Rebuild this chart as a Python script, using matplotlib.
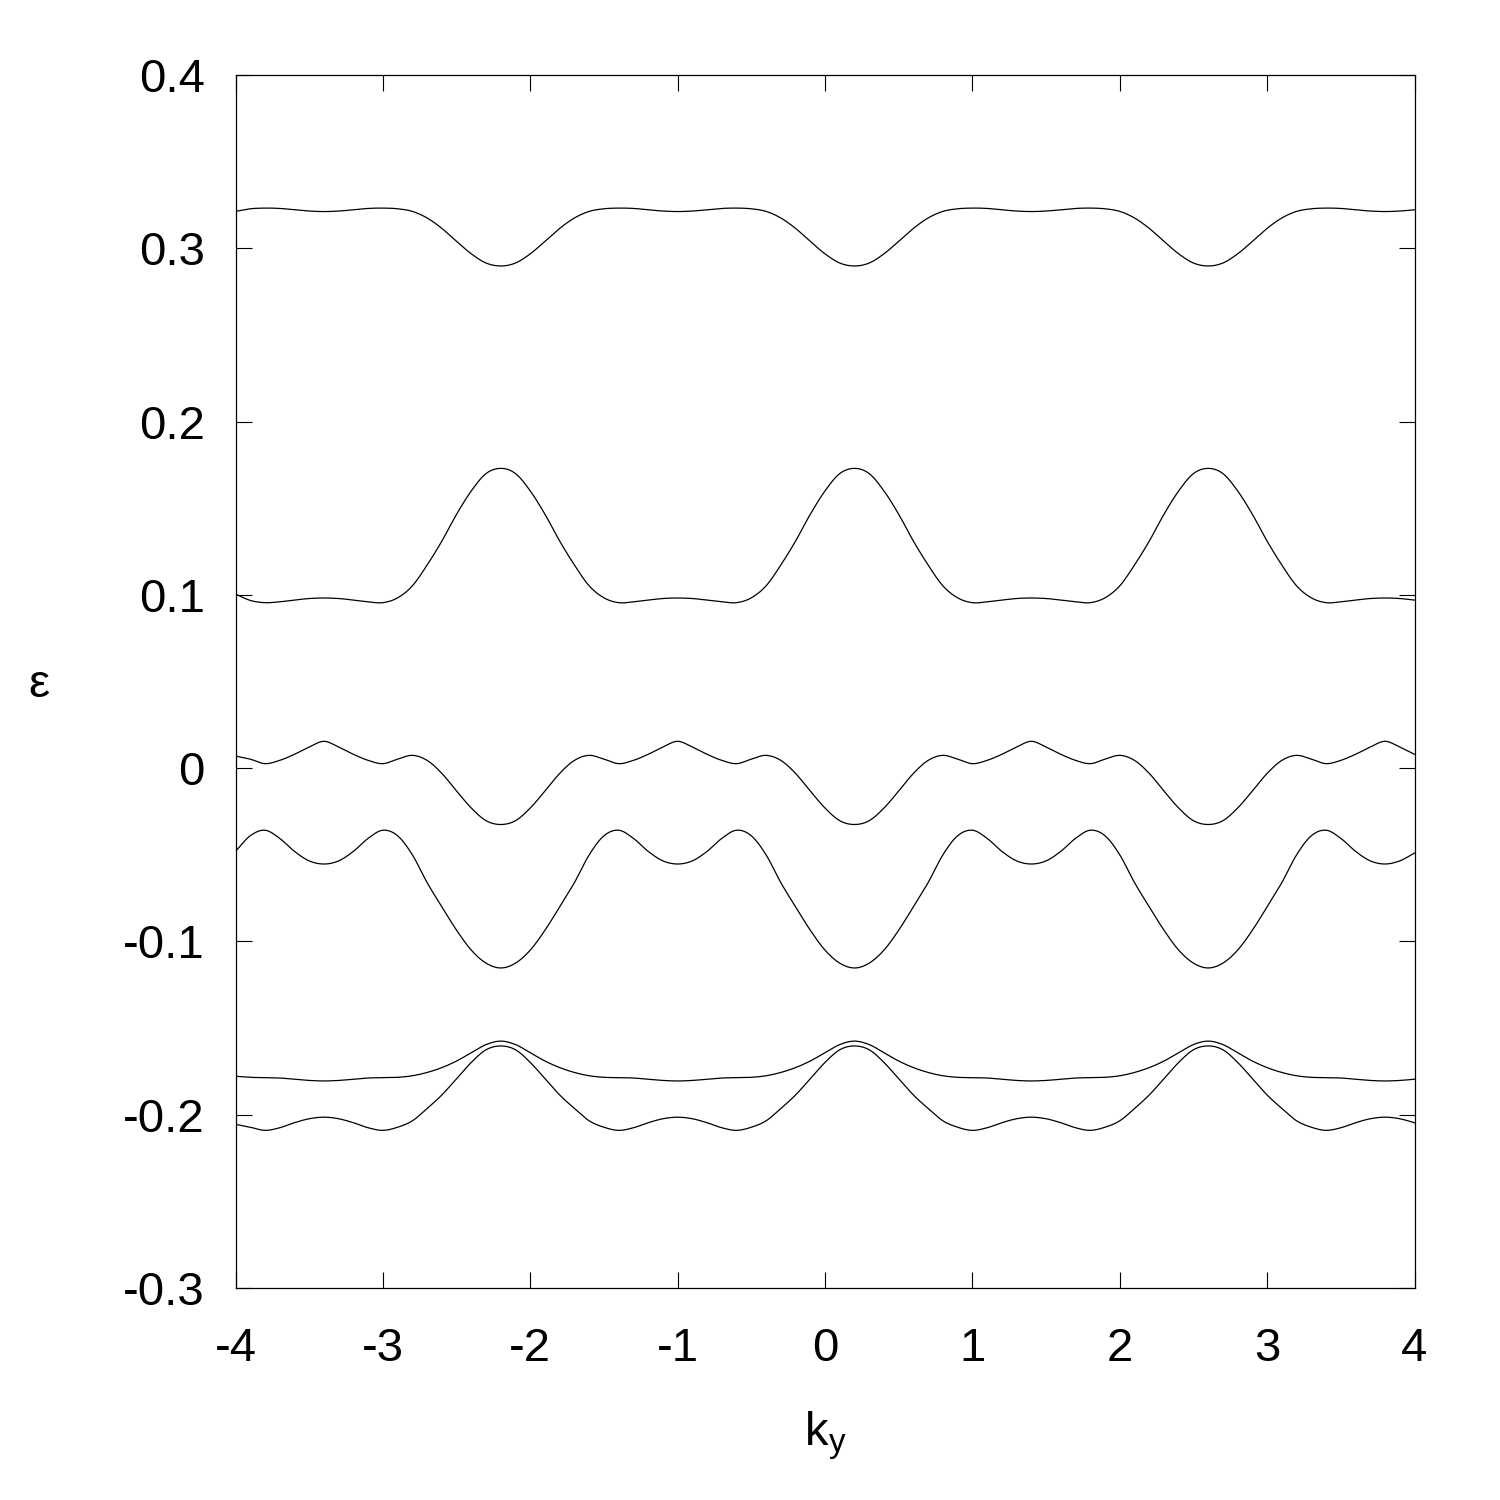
import matplotlib
matplotlib.use("Agg")
import matplotlib.pyplot as plt
import numpy as np

plt.rcParams['font.family'] = ['Liberation Sans', 'DejaVu Sans']

# k_y sample points, step 0.1
ky = [round(-4.0 + 0.1 * i, 1) for i in range(81)]

# bands (minima/maxima repeat at -2.2, 0.2, 2.6)
band1 = [0.3213, 0.3228, 0.3232, 0.3230, 0.3222, 0.3215, 0.3212,
         0.3215, 0.3222, 0.3230, 0.3232, 0.3228, 0.3213, 0.3175, 0.3115, 0.3040, 0.2968, 0.2915, 0.2898,
         0.2915, 0.2968, 0.3040, 0.3115, 0.3175, 0.3213, 0.3228, 0.3232, 0.3230, 0.3222, 0.3215, 0.3212,
         0.3215, 0.3222, 0.3230, 0.3232, 0.3228, 0.3213, 0.3175, 0.3115, 0.3040, 0.2968, 0.2915, 0.2898,
         0.2915, 0.2968, 0.3040, 0.3115, 0.3175, 0.3213, 0.3228, 0.3232, 0.3230, 0.3222, 0.3215, 0.3212,
         0.3215, 0.3222, 0.3230, 0.3232, 0.3228, 0.3213, 0.3175, 0.3115, 0.3040, 0.2968, 0.2915, 0.2898,
         0.2915, 0.2968, 0.3040, 0.3115, 0.3175, 0.3213, 0.3228, 0.3232, 0.3230, 0.3222, 0.3215, 0.3212,
         0.3215, 0.3222]

band2 = [0.1005, 0.0968, 0.0955, 0.0960, 0.0970, 0.0979, 0.0982,
         0.0979, 0.0970, 0.0960, 0.0955, 0.0983, 0.1052, 0.1172, 0.1310, 0.1465, 0.1600, 0.1700, 0.1730,
         0.1700, 0.1600, 0.1465, 0.1310, 0.1172, 0.1052, 0.0983, 0.0955, 0.0960, 0.0970, 0.0979, 0.0982,
         0.0979, 0.0970, 0.0960, 0.0955, 0.0983, 0.1052, 0.1172, 0.1310, 0.1465, 0.1600, 0.1700, 0.1730,
         0.1700, 0.1600, 0.1465, 0.1310, 0.1172, 0.1052, 0.0983, 0.0955, 0.0960, 0.0970, 0.0979, 0.0982,
         0.0979, 0.0970, 0.0960, 0.0955, 0.0983, 0.1052, 0.1172, 0.1310, 0.1465, 0.1600, 0.1700, 0.1730,
         0.1700, 0.1600, 0.1465, 0.1310, 0.1172, 0.1052, 0.0983, 0.0955, 0.0960, 0.0970, 0.0979, 0.0982,
         0.0979, 0.0970]

band3 = [0.0070, 0.0052, 0.0026, 0.0045, 0.0080, 0.0122, 0.0155,
         0.0122, 0.0080, 0.0045, 0.0026, 0.0052, 0.0074, 0.0045, -0.0030, -0.0132, -0.0230, -0.0303, -0.0325,
         -0.0303, -0.0230, -0.0132, -0.0030, 0.0045, 0.0074, 0.0052, 0.0026, 0.0045, 0.0080, 0.0122, 0.0155,
         0.0122, 0.0080, 0.0045, 0.0026, 0.0052, 0.0074, 0.0045, -0.0030, -0.0132, -0.0230, -0.0303, -0.0325,
         -0.0303, -0.0230, -0.0132, -0.0030, 0.0045, 0.0074, 0.0052, 0.0026, 0.0045, 0.0080, 0.0122, 0.0155,
         0.0122, 0.0080, 0.0045, 0.0026, 0.0052, 0.0074, 0.0045, -0.0030, -0.0132, -0.0230, -0.0303, -0.0325,
         -0.0303, -0.0230, -0.0132, -0.0030, 0.0045, 0.0074, 0.0052, 0.0026, 0.0045, 0.0080, 0.0122, 0.0155,
         0.0122, 0.0080]

band4 = [-0.0480, -0.0390, -0.0358, -0.0405, -0.0480, -0.0535, -0.0553,
         -0.0535, -0.0480, -0.0405, -0.0358, -0.0390, -0.0500, -0.0660, -0.0800, -0.0935, -0.1050, -0.1125, -0.1153,
         -0.1125, -0.1050, -0.0935, -0.0800, -0.0660, -0.0500, -0.0390, -0.0358, -0.0405, -0.0480, -0.0535, -0.0553,
         -0.0535, -0.0480, -0.0405, -0.0358, -0.0390, -0.0500, -0.0660, -0.0800, -0.0935, -0.1050, -0.1125, -0.1153,
         -0.1125, -0.1050, -0.0935, -0.0800, -0.0660, -0.0500, -0.0390, -0.0358, -0.0405, -0.0480, -0.0535, -0.0553,
         -0.0535, -0.0480, -0.0405, -0.0358, -0.0390, -0.0500, -0.0660, -0.0800, -0.0935, -0.1050, -0.1125, -0.1153,
         -0.1125, -0.1050, -0.0935, -0.0800, -0.0660, -0.0500, -0.0390, -0.0358, -0.0405, -0.0480, -0.0535, -0.0553,
         -0.0535, -0.0490]

band5 = [-0.1778, -0.1784, -0.1786, -0.1788, -0.1795, -0.1802, -0.1805,
         -0.1802, -0.1795, -0.1788, -0.1786, -0.1784, -0.1775, -0.1756, -0.1728, -0.1690, -0.1642, -0.1595, -0.1575,
         -0.1595, -0.1642, -0.1690, -0.1728, -0.1756, -0.1775, -0.1784, -0.1786, -0.1788, -0.1795, -0.1802, -0.1805,
         -0.1802, -0.1795, -0.1788, -0.1786, -0.1784, -0.1775, -0.1756, -0.1728, -0.1690, -0.1642, -0.1595, -0.1575,
         -0.1595, -0.1642, -0.1690, -0.1728, -0.1756, -0.1775, -0.1784, -0.1786, -0.1788, -0.1795, -0.1802, -0.1805,
         -0.1802, -0.1795, -0.1788, -0.1786, -0.1784, -0.1775, -0.1756, -0.1728, -0.1690, -0.1642, -0.1595, -0.1575,
         -0.1595, -0.1642, -0.1690, -0.1728, -0.1756, -0.1775, -0.1784, -0.1786, -0.1788, -0.1795, -0.1802, -0.1805,
         -0.1802, -0.1795]

band6 = [-0.2055, -0.2072, -0.2090, -0.2075, -0.2046, -0.2023, -0.2014,
         -0.2023, -0.2046, -0.2075, -0.2090, -0.2072, -0.2035, -0.1964, -0.1886, -0.1792, -0.1698, -0.1625, -0.1603,
         -0.1625, -0.1698, -0.1792, -0.1886, -0.1964, -0.2035, -0.2072, -0.2090, -0.2075, -0.2046, -0.2023, -0.2014,
         -0.2023, -0.2046, -0.2075, -0.2090, -0.2072, -0.2035, -0.1964, -0.1886, -0.1792, -0.1698, -0.1625, -0.1603,
         -0.1625, -0.1698, -0.1792, -0.1886, -0.1964, -0.2035, -0.2072, -0.2090, -0.2075, -0.2046, -0.2023, -0.2014,
         -0.2023, -0.2046, -0.2075, -0.2090, -0.2072, -0.2035, -0.1964, -0.1886, -0.1792, -0.1698, -0.1625, -0.1603,
         -0.1625, -0.1698, -0.1792, -0.1886, -0.1964, -0.2035, -0.2072, -0.2090, -0.2075, -0.2046, -0.2023, -0.2014,
         -0.2023, -0.2046]

xticks = [-4, -3, -2, -1, 0, 1, 2, 3, 4]
yticks = [-0.3, -0.2, -0.1, 0, 0.1, 0.2, 0.3, 0.4]
ytick_labels = ['-0.3', '-0.2', '-0.1', '0', '0.1', '0.2', '0.3', '0.4']


def smooth(x, y, n=12):
    # catmull-rom through the read points, only to draw a smooth line
    x = np.asarray(x, float)
    y = np.asarray(y, float)
    yp = np.concatenate([[2 * y[0] - y[1]], y, [2 * y[-1] - y[-2]]])
    xs, ys = [], []
    for i in range(len(x) - 1):
        p0, p1, p2, p3 = yp[i], yp[i + 1], yp[i + 2], yp[i + 3]
        t = np.linspace(0, 1, n, endpoint=False)
        v = 0.5 * ((2 * p1) + (-p0 + p2) * t + (2 * p0 - 5 * p1 + 4 * p2 - p3) * t ** 2
                   + (-p0 + 3 * p1 - 3 * p2 + p3) * t ** 3)
        xs.append(x[i] + (x[i + 1] - x[i]) * t)
        ys.append(v)
    xs.append([x[-1]])
    ys.append([y[-1]])
    return np.concatenate(xs), np.concatenate(ys)


fig = plt.figure(figsize=(15, 15), dpi=100)
ax = fig.add_axes([0.157, 0.1413, 0.786, 0.8087])

for band in [band1, band2, band3, band4, band5, band6]:
    sx, sy = smooth(ky, band)
    ax.plot(sx, sy, color='black', linewidth=0.9)

ax.set_xlim(-4, 4)
ax.set_ylim(-0.3, 0.4)
ax.set_xticks(xticks)
ax.set_xticklabels([str(t) for t in xticks])
ax.set_yticks(yticks)
ax.set_yticklabels(ytick_labels)
ax.tick_params(direction='in', length=11.5, width=0.8, top=True, right=True,
               labelsize=34)
ax.tick_params(axis='x', pad=28)
ax.tick_params(axis='y', pad=22)
for sp in ax.spines.values():
    sp.set_linewidth(0.9)

ax.set_xlabel(r'k$_\mathregular{y}$', fontsize=34, labelpad=28)
ax.set_ylabel('ε', fontsize=34, rotation=0, va='center', ha='center')
ax.yaxis.set_label_coords(-0.167, 0.497)

fig.savefig('out.png', dpi=100)
